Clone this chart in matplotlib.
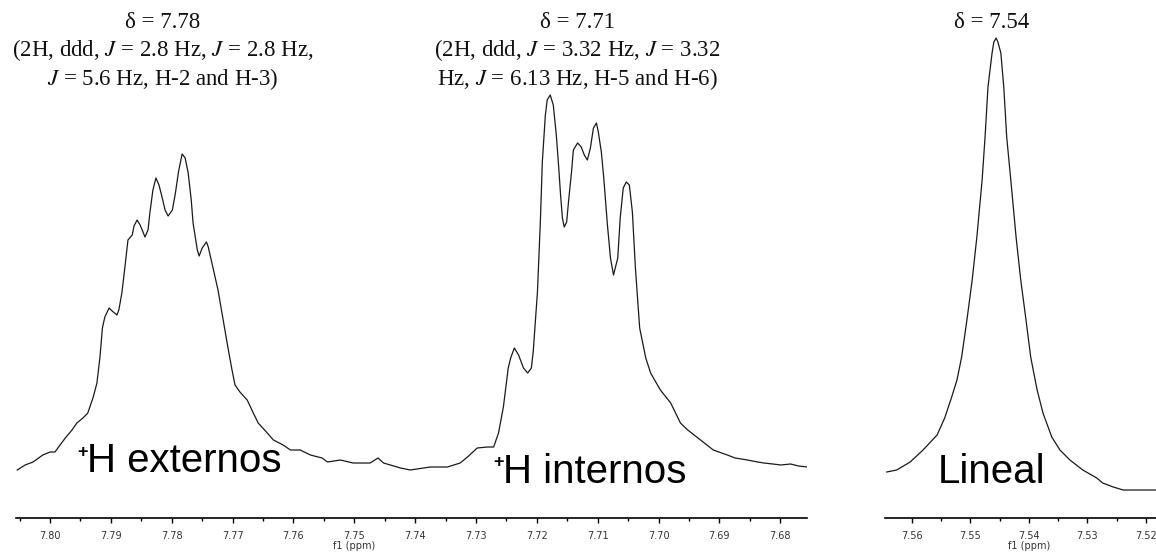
import numpy as np
import matplotlib
matplotlib.use("Agg")
import matplotlib.pyplot as plt
from matplotlib.ticker import MultipleLocator

# left spectrum (H externos / H internos), ppm and intensity (arb. units)
ppm_a = [7.8054, 7.8041, 7.8028, 7.8012, 7.8000, 7.7992, 7.7975, 7.7964, 7.7956,
         7.7946, 7.7938, 7.7929, 7.7923, 7.7918, 7.7914, 7.7910, 7.7903, 7.7898,
         7.7890, 7.7887, 7.7882, 7.7877, 7.7872, 7.7865, 7.7862, 7.7857, 7.7852,
         7.7844, 7.7839, 7.7836, 7.7831, 7.7826, 7.7821, 7.7816, 7.7811, 7.7806,
         7.7799, 7.7794, 7.7789, 7.7783, 7.7778, 7.7773, 7.7768, 7.7765, 7.7758,
         7.7755, 7.7750, 7.7743, 7.7740, 7.7734, 7.7724, 7.7715, 7.7709, 7.7701,
         7.7696, 7.7688, 7.7676, 7.7666, 7.7658, 7.7643, 7.7633, 7.7617, 7.7605,
         7.7589, 7.7572, 7.7553, 7.7544, 7.7523, 7.7502, 7.7474, 7.7461, 7.7452,
         7.7424, 7.7408, 7.7375, 7.7347, 7.7326, 7.7314, 7.7298, 7.7281, 7.7271,
         7.7263, 7.7255, 7.7247, 7.7243, 7.7237, 7.7230, 7.7222, 7.7215, 7.7209,
         7.7206, 7.7199, 7.7194, 7.7191, 7.7186, 7.7183, 7.7178, 7.7173, 7.7168,
         7.7164, 7.7161, 7.7158, 7.7155, 7.7151, 7.7148, 7.7143, 7.7140, 7.7133,
         7.7127, 7.7122, 7.7117, 7.7112, 7.7107, 7.7102, 7.7099, 7.7094, 7.7090,
         7.7084, 7.7079, 7.7074, 7.7067, 7.7063, 7.7058, 7.7053, 7.7048, 7.7043,
         7.7038, 7.7031, 7.7021, 7.7013, 7.6997, 7.6980, 7.6964, 7.6952, 7.6931,
         7.6910, 7.6887, 7.6874, 7.6854, 7.6837, 7.6827, 7.6812, 7.6799, 7.6783,
         7.6770, 7.6755]
int_a = [48, 53, 56, 63, 66, 66, 80, 88, 95,
         100, 105, 121, 135, 161, 190, 201, 210, 207,
         203, 208, 225, 251, 278, 283, 292, 298, 293,
         281, 288, 305, 328, 340, 333, 321, 308, 302,
         308, 325, 346, 364, 360, 345, 318, 295, 268,
         262, 270, 276, 271, 255, 228, 196, 175, 148,
         133, 126, 118, 105, 95, 85, 78, 73, 68,
         68, 63, 60, 56, 58, 55, 55, 60, 55,
         50, 48, 51, 51, 55, 61, 70, 71, 71,
         85, 111, 150, 160, 170, 163, 150, 145, 150,
         166, 226, 300, 356, 403, 418, 423, 413, 383,
         350, 323, 300, 291, 296, 316, 346, 368, 375,
         371, 363, 358, 370, 390, 395, 386, 366, 340,
         293, 260, 243, 260, 300, 330, 336, 333, 306,
         250, 190, 160, 145, 128, 115, 95, 88, 78,
         68, 63, 60, 58, 56, 55, 54, 53, 54,
         52, 51]

# right spectrum (lineal)
ppm_b = [7.5643, 7.5626, 7.5603, 7.5581, 7.5557, 7.5544, 7.5532, 7.5523, 7.5515,
         7.5506, 7.5497, 7.5489, 7.5480, 7.5475, 7.5470, 7.5463, 7.5460, 7.5456,
         7.5453, 7.5448, 7.5443, 7.5438, 7.5431, 7.5422, 7.5414, 7.5405, 7.5397,
         7.5386, 7.5376, 7.5361, 7.5347, 7.5330, 7.5308, 7.5284, 7.5274, 7.5256,
         7.5239, 7.5210, 7.5176]
int_b = [46, 48, 56, 68, 83, 100, 121, 138, 161,
         198, 238, 281, 338, 381, 431, 465, 476, 480,
         476, 465, 431, 381, 338, 281, 238, 198, 161,
         128, 105, 81, 68, 58, 48, 40, 35, 31,
         28, 28, 28]

ticks_a = [7.80, 7.79, 7.78, 7.77, 7.76, 7.75, 7.74, 7.73, 7.72, 7.71, 7.70, 7.69, 7.68]
ticks_b = [7.56, 7.55, 7.54, 7.53, 7.52]

plt.rcParams['mathtext.fontset'] = 'stix'

fig = plt.figure(figsize=(11.56, 5.56), dpi=100)
W, H = 1156.0, 556.0
ax1 = fig.add_axes([16 / W, 38 / H, 791 / W, 518 / H])
ax2 = fig.add_axes([885 / W, 38 / H, 275 / W, 518 / H])

for ax, x, y, lim, ticks, lab_x in [(ax1, ppm_a, int_a, (7.8056, 7.6756), ticks_a, 0.427),
                                    (ax2, ppm_b, int_b, (7.5646, 7.5176), ticks_b, 0.524)]:
    ax.plot(x, y, color='#1a1a1a', lw=0.9, solid_joinstyle='round')
    ax.set_xlim(*lim)
    ax.set_ylim(0, 518)
    ax.patch.set_alpha(0)
    for s in ['left', 'right', 'top']:
        ax.spines[s].set_visible(False)
    ax.spines['bottom'].set_linewidth(1.2)
    ax.set_yticks([])
    ax.set_xticks(ticks)
    ax.set_xticklabels(['%.2f' % t for t in ticks])
    ax.xaxis.set_minor_locator(MultipleLocator(0.005))
    ax.tick_params(axis='x', which='major', length=3.5, width=1, pad=6,
                   labelsize=7, labelcolor='#333333')
    ax.tick_params(axis='x', which='minor', length=2, width=1)
    ax.set_xlabel('f1 (ppm)', fontsize=7, color='#333333')
    ax.xaxis.set_label_coords(lab_x, -0.045)

serif = ['Liberation Serif', 'DejaVu Serif']
sans = ['Liberation Sans', 'DejaVu Sans']

blocks = [
    (163, ['δ = 7.78',
           '(2H, ddd, $J$ = 2.8 Hz, $J$ = 2.8 Hz,',
           '$J$ = 5.6 Hz, H-2 and H-3)']),
    (577, ['δ = 7.71',
           '(2H, ddd, $J$ = 3.32 Hz, $J$ = 3.32',
           'Hz, $J$ = 6.13 Hz, H-5 and H-6)']),
    (992, ['δ = 7.54']),
]
for cx, lines in blocks:
    for i, txt in enumerate(lines):
        fig.text(cx / W, 1 - (22 + 28.5 * i) / H, txt, ha='center', va='center',
                 fontsize=16.5, family=serif, color='#111111')

labels = [(77, 461, 'H externos'), (493, 472, 'H internos')]
for lx, ly, txt in labels:
    fig.text(lx / W, 1 - (ly - 9) / H, '+', ha='left', va='center',
             fontsize=13, family=sans, fontweight='bold')
    fig.text((lx + 10) / W, 1 - ly / H, txt, ha='left', va='center',
             fontsize=29, family=sans)
fig.text(938 / W, 1 - 472 / H, 'Lineal', ha='left', va='center',
         fontsize=29, family=sans)

fig.savefig('out.png', dpi=100)
